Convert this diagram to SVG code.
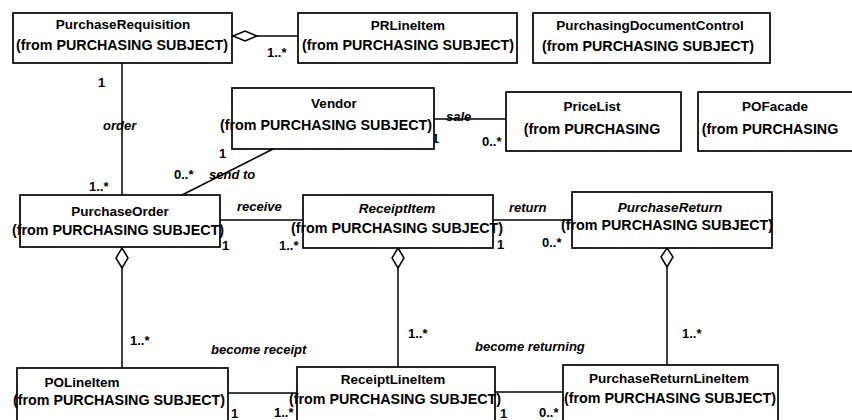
<svg xmlns="http://www.w3.org/2000/svg" width="852" height="420" viewBox="0 0 852 420">
<style>
.box{fill:#fff;stroke:#000;stroke-width:1.7}
.ln{fill:none;stroke:#000;stroke-width:1.5}
.dia{fill:#fff;stroke:#000;stroke-width:1.5}
text{font-family:"Liberation Sans",Arial,sans-serif;font-weight:bold;fill:#000}
.nm{font-size:13.5px;text-anchor:middle}
.nmi{font-size:13.5px;text-anchor:middle;font-style:italic}
.fr{font-size:14.3px;text-anchor:middle}
.lb{font-size:13px}
.it{font-size:13px;font-style:italic}
</style>
<rect width="852" height="420" fill="#fff"/>

<g id="connectors">
  <line class="ln" x1="257" y1="36" x2="298" y2="36"/>
  <polygon class="dia" points="233,36 245,31 257,36 245,41"/>
  <line class="ln" x1="122" y1="63" x2="122" y2="195"/>
  <line class="ln" x1="273" y1="149" x2="182" y2="195"/>
  <line class="ln" x1="434" y1="119" x2="506" y2="119"/>
  <line class="ln" x1="220" y1="220" x2="303" y2="220"/>
  <line class="ln" x1="493" y1="220" x2="572" y2="220"/>
  <line class="ln" x1="122" y1="268" x2="122" y2="368"/>
  <polygon class="dia" points="122,248 128,258 122,268 116,258"/>
  <line class="ln" x1="398" y1="268" x2="398" y2="367"/>
  <polygon class="dia" points="398,248 404,258 398,268 392,258"/>
  <line class="ln" x1="667" y1="267" x2="667" y2="365"/>
  <polygon class="dia" points="667,248 673,257 667,267 661,257"/>
  <line class="ln" x1="228" y1="393" x2="297" y2="393"/>
  <line class="ln" x1="495" y1="392" x2="563" y2="392"/>

  <text class="lb" x="267" y="57">1..*</text>
  <text class="lb" x="98" y="87">1</text>
  <text class="it" x="103" y="130">order</text>
  <text class="lb" x="89" y="191">1..*</text>
  <text class="lb" x="219" y="158">1</text>
  <text class="lb" x="174" y="179">0..*</text>
  <text class="it" x="209" y="179">send to</text>
  <text class="it" x="446" y="121">sale</text>
  <text class="lb" x="432" y="143">1</text>
  <text class="lb" x="482" y="146">0..*</text>
  <text class="it" x="237" y="211">receive</text>
  <text class="lb" x="222" y="250">1</text>
  <text class="lb" x="279" y="250">1..*</text>
  <text class="it" x="509" y="212">return</text>
  <text class="lb" x="497" y="249">1</text>
  <text class="lb" x="542" y="247">0..*</text>
  <text class="lb" x="130" y="345">1..*</text>
  <text class="lb" x="408" y="338">1..*</text>
  <text class="lb" x="682" y="338">1..*</text>
  <text class="it" x="211" y="354">become receipt</text>
  <text class="it" x="475" y="351">become returning</text>
  <text class="lb" x="231" y="418">1</text>
  <text class="lb" x="274" y="417">1..*</text>
  <text class="lb" x="500" y="418">1</text>
  <text class="lb" x="539" y="417">0..*</text>
</g>

<g id="PurchaseRequisition">
  <rect class="box" x="13" y="13" width="219" height="50"/>
  <text class="nm" x="123" y="29">PurchaseRequisition</text>
  <text class="fr" x="122" y="50">(from PURCHASING SUBJECT)</text>
</g>
<g id="PRLineItem">
  <rect class="box" x="298" y="13" width="219" height="50"/>
  <text class="nm" x="408" y="30">PRLineItem</text>
  <text class="fr" x="408" y="50">(from PURCHASING SUBJECT)</text>
</g>
<g id="PurchasingDocumentControl">
  <rect class="box" x="533" y="13" width="237" height="50"/>
  <text class="nm" x="650" y="30">PurchasingDocumentControl</text>
  <text class="fr" x="648" y="51">(from PURCHASING SUBJECT)</text>
</g>
<g id="Vendor">
  <rect class="box" x="232" y="88" width="202" height="61"/>
  <text class="nm" x="334" y="108">Vendor</text>
  <text class="fr" x="326" y="130">(from PURCHASING SUBJECT)</text>
</g>
<g id="PriceList">
  <rect class="box" x="506" y="92" width="175" height="59"/>
  <text class="nm" x="592" y="111">PriceList</text>
  <text class="fr" x="592" y="134">(from PURCHASING</text>
</g>
<g id="POFacade">
  <rect class="box" x="698" y="92" width="170" height="59"/>
  <text class="nm" x="775" y="111">POFacade</text>
  <text class="fr" x="770" y="134">(from PURCHASING</text>
</g>
<g id="PurchaseOrder">
  <rect class="box" x="20" y="195" width="200" height="52"/>
  <text class="nm" x="120" y="216">PurchaseOrder</text>
  <text class="fr" x="118" y="235">(from PURCHASING SUBJECT)</text>
</g>
<g id="ReceiptItem">
  <rect class="box" x="303" y="195" width="190" height="53"/>
  <text class="nmi" x="397" y="213">ReceiptItem</text>
  <text class="fr" x="397" y="233">(from PURCHASING SUBJECT)</text>
</g>
<g id="PurchaseReturn">
  <rect class="box" x="572" y="192" width="200" height="56"/>
  <text class="nmi" x="670" y="212">PurchaseReturn</text>
  <text class="fr" x="667" y="230">(from PURCHASING SUBJECT)</text>
</g>
<g id="POLineItem">
  <rect class="box" x="17" y="368" width="211" height="62"/>
  <text class="nm" x="82" y="387">POLineItem</text>
  <text class="fr" x="119" y="405">(from PURCHASING SUBJECT)</text>
</g>
<g id="ReceiptLineItem">
  <rect class="box" x="297" y="367" width="198" height="63"/>
  <text class="nm" x="393" y="384">ReceiptLineItem</text>
  <text class="fr" x="395" y="404">(from PURCHASING SUBJECT)</text>
</g>
<g id="PurchaseReturnLineItem">
  <rect class="box" x="563" y="365" width="215" height="65"/>
  <text class="nm" x="669" y="383">PurchaseReturnLineItem</text>
  <text class="fr" x="670" y="403">(from PURCHASING SUBJECT)</text>
</g>
</svg>
